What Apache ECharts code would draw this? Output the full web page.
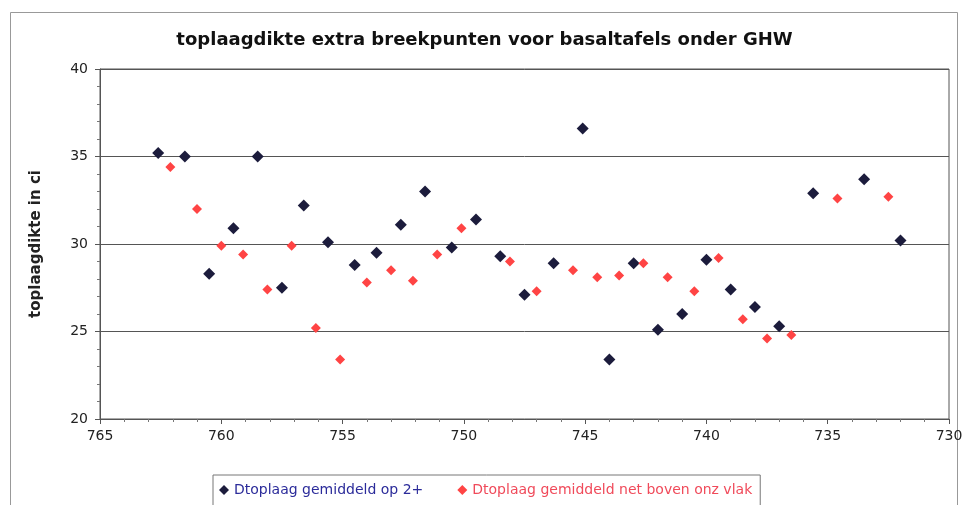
<!DOCTYPE html>
<html>
<head>
<meta charset="utf-8">
<script src="https://cdn.jsdelivr.net/npm/echarts@6/dist/echarts.min.js"></script>
<style>
  html, body { margin: 0; padding: 0; background: #fff; }
  #chart { width: 969px; height: 505px; }
</style>
</head>
<body>
<div id="chart"></div>
<script>
// tick labels of both axes
const xTicks = [765, 760, 755, 750, 745, 740, 735, 730]
const yTicks = [20, 25, 30, 35, 40]

// Dtoplaag gemiddeld op 2+
const darkX = [762.6, 761.5, 760.5, 759.5, 758.5, 757.5, 756.6, 755.6, 754.5, 753.6, 752.6, 751.6, 750.5, 749.5, 748.5, 747.5, 746.3, 745.1, 744.0, 743.0, 742.0, 741.0, 740.0, 739.0, 738.0, 737.0, 735.6, 733.5, 732.0]
const darkY = [35.2, 35.0, 28.3, 30.9, 35.0, 27.5, 32.2, 30.1, 28.8, 29.5, 31.1, 33.0, 29.8, 31.4, 29.3, 27.1, 28.9, 36.6, 23.4, 28.9, 25.1, 26.0, 29.1, 27.4, 26.4, 25.3, 32.9, 33.7, 30.2]

// Dtoplaag gemiddeld net boven onz vlak
const redX = [762.1, 761.0, 760.0, 759.1, 758.1, 757.1, 756.1, 755.1, 754.0, 753.0, 752.1, 751.1, 750.1, 748.1, 747.0, 745.5, 744.5, 743.6, 742.6, 741.6, 740.5, 739.5, 738.5, 737.5, 736.5, 734.6, 732.5]
const redY = [34.4, 32.0, 29.9, 29.4, 27.4, 29.9, 25.2, 23.4, 27.8, 28.5, 27.9, 29.4, 30.9, 29.0, 27.3, 28.5, 28.1, 28.2, 28.9, 28.1, 27.3, 29.2, 25.7, 24.6, 24.8, 32.6, 32.7]

const darkName = 'Dtoplaag gemiddeld op 2+'
const redName = 'Dtoplaag gemiddeld net boven onz vlak'

const zip = (xs, ys) => xs.map((x, i) => [x, ys[i]])

const chart = echarts.init(document.getElementById('chart'))
const tickFont = { fontFamily: 'DejaVu Sans', fontSize: 14, color: '#222' }

chart.setOption({
  backgroundColor: '#fff',
  animation: false,
  title: {
    text: 'toplaagdikte extra breekpunten voor basaltafels onder GHW',
    left: 'center',
    top: 26,
    textStyle: { fontFamily: 'DejaVu Sans', fontWeight: 'bold', fontSize: 18, color: '#111' }
  },
  graphic: [{
    type: 'rect',
    shape: { x: 10.5, y: 12.5, width: 947, height: 520 },
    style: { fill: 'none', stroke: '#999', lineWidth: 1 },
    silent: true
  }],
  legend: {
    left: 213,
    top: 475,
    itemGap: 34,
    itemWidth: 10,
    itemHeight: 10,
    padding: [8, 8, 12, 6],
    borderColor: '#777',
    borderWidth: 1,
    data: [
      { name: darkName, icon: 'diamond', textStyle: { color: '#2b2b9a' } },
      { name: redName, icon: 'diamond', textStyle: { color: '#f04a5a' } }
    ],
    textStyle: { fontFamily: 'DejaVu Sans', fontSize: 14 }
  },
  grid: {
    left: 100,
    right: 20,
    top: 69,
    bottom: 86,
    show: true,
    borderColor: '#555',
    borderWidth: 1
  },
  xAxis: {
    type: 'value',
    inverse: true,
    min: xTicks[xTicks.length - 1],
    max: xTicks[0],
    interval: 5,
    axisLine: { show: true, onZero: false, lineStyle: { color: '#555' } },
    axisTick: { show: true, length: 5, lineStyle: { color: '#555' } },
    minorTick: { show: true, splitNumber: 5, length: 3, lineStyle: { color: '#777' } },
    splitLine: { show: false },
    axisLabel: Object.assign({ margin: 10 }, tickFont)
  },
  yAxis: {
    type: 'value',
    min: yTicks[0],
    max: yTicks[yTicks.length - 1],
    interval: 5,
    name: 'toplaagdikte in ci',
    nameLocation: 'middle',
    nameGap: 56,
    nameTextStyle: { fontFamily: 'DejaVu Sans', fontWeight: 'bold', fontSize: 15, color: '#222' },
    axisLine: { show: true, lineStyle: { color: '#555' } },
    axisTick: { show: true, length: 5, lineStyle: { color: '#555' } },
    minorTick: { show: true, splitNumber: 5, length: 3, lineStyle: { color: '#777' } },
    splitLine: { show: true, lineStyle: { color: '#555', width: 1 } },
    axisLabel: Object.assign({ margin: 12 }, tickFont)
  },
  series: [
    {
      name: darkName,
      type: 'scatter',
      symbol: 'diamond',
      symbolSize: 12,
      itemStyle: { color: '#1c1c3c', opacity: 1 },
      data: zip(darkX, darkY)
    },
    {
      name: redName,
      type: 'scatter',
      symbol: 'diamond',
      symbolSize: 10,
      itemStyle: { color: '#ff4444', opacity: 1 },
      data: zip(redX, redY)
    }
  ]
})
</script>
</body>
</html>
